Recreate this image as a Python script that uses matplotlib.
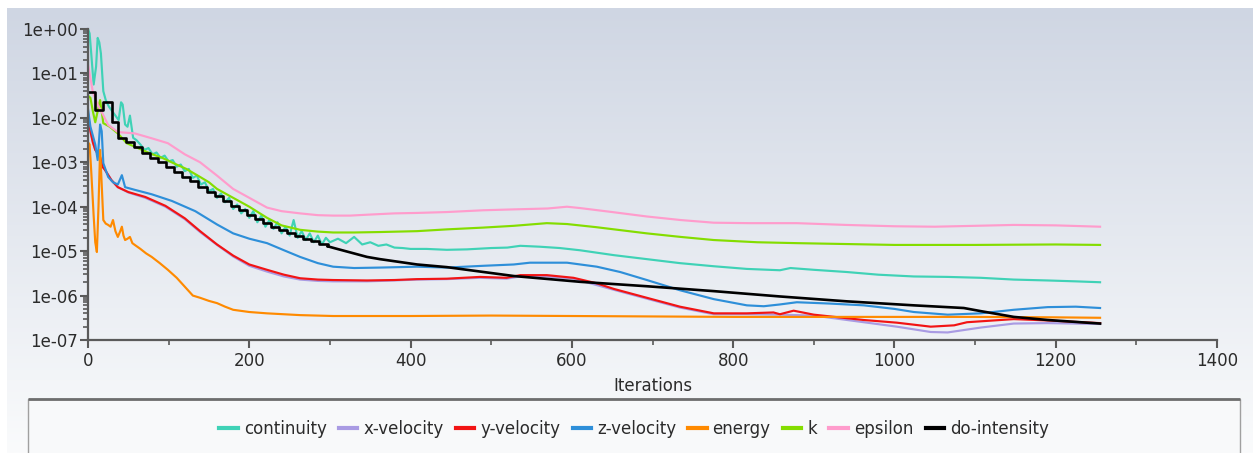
import numpy as np
import matplotlib
matplotlib.use("Agg")
import matplotlib.pyplot as plt
from matplotlib.patches import Rectangle
from matplotlib.lines import Line2D
from matplotlib.ticker import FixedLocator, FuncFormatter, LogLocator, NullFormatter

# ---------------- data (log10 of residuals) ----------------
series_names = ["continuity", "x-velocity", "y-velocity", "z-velocity",
                "energy", "k", "epsilon", "do-intensity"]
series_colors = ["#3fd2b6", "#a99be3", "#f21414", "#2e8fd9",
                 "#ff8a00", "#84dd00", "#ff9ccc", "#000000"]

cont_it = [0, 2, 4, 7, 10, 12, 14, 16, 19, 22, 26, 30, 34, 38, 41, 43, 46, 49, 52, 56,
           60, 65, 70, 75, 80, 85, 90, 95, 100, 105, 110, 115, 120, 125, 130, 135, 140,
           145, 150, 155, 160, 165, 170, 175, 180, 185, 190, 195, 200, 205, 210, 215,
           220, 225, 230, 235, 240, 245, 250, 255, 260, 265, 270, 275, 280, 285, 290,
           295, 300, 310, 320, 330, 340, 350, 360, 370, 380, 390, 400, 420, 445, 470,
           500, 520, 536, 560, 585, 610, 652, 693, 734, 776, 817, 858, 871, 900, 941,
           980, 1024, 1066, 1107, 1148, 1190, 1225, 1255]
cont_log = [0.0, -0.1, -0.55, -1.25, -0.85, -0.2, -0.3, -0.55, -1.4, -1.6, -1.75, -1.85,
            -1.95, -2.05, -1.65, -1.7, -2.15, -2.2, -1.95, -2.45,
            -2.5, -2.6, -2.72, -2.68, -2.82, -2.78, -2.9, -2.85, -2.98, -2.95, -3.1,
            -3.05, -3.2, -3.15, -3.35, -3.3, -3.5,
            -3.45, -3.65, -3.6, -3.8, -3.7, -3.9, -3.8, -4.05, -3.95, -4.15, -4.05,
            -4.25, -4.1, -4.35, -4.2,
            -4.45, -4.3, -4.5, -4.35, -4.6, -4.45, -4.65, -4.3, -4.7, -4.55, -4.75,
            -4.6, -4.8, -4.65, -4.85,
            -4.7, -4.8, -4.72, -4.82, -4.68, -4.85, -4.8, -4.88, -4.85, -4.92, -4.93,
            -4.95, -4.95, -4.97, -4.96,
            -4.93, -4.92, -4.88, -4.9, -4.93, -4.98, -5.09, -5.18, -5.27, -5.34, -5.4,
            -5.43, -5.38, -5.42, -5.47,
            -5.53, -5.57, -5.58, -5.6, -5.64, -5.66, -5.68, -5.7]

xvel_it = [0, 3, 6, 9, 12, 15, 18, 21, 29, 37, 50, 71, 96, 120, 139, 160, 180, 200, 222,
           243, 263, 285, 304, 346, 380, 408, 445, 486, 519, 536, 569, 602, 652, 693,
           734, 776, 817, 858, 900, 962, 1003, 1045, 1066, 1107, 1148, 1190, 1255]
xvel_log = [-1.95, -2.3, -2.55, -2.72, -2.8, -2.88, -3.1, -3.17, -3.4, -3.56, -3.68,
            -3.8, -4.0, -4.28, -4.57, -4.86, -5.12, -5.33, -5.46,
            -5.57, -5.64, -5.67, -5.68, -5.68, -5.66, -5.64, -5.63, -5.6, -5.62, -5.57,
            -5.57, -5.62, -5.87, -6.07,
            -6.27, -6.42, -6.42, -6.43, -6.45, -6.6, -6.7, -6.82, -6.83, -6.72, -6.63,
            -6.62, -6.64]

yvel_it = [0, 3, 6, 9, 12, 15, 18, 21, 29, 37, 50, 71, 96, 120, 139, 160, 180, 200, 222,
           243, 263, 285, 304, 346, 380, 408, 445, 486, 519, 536, 569, 602, 630, 652,
           693, 734, 776, 817, 850, 858, 875, 900, 962, 1003, 1045, 1074, 1090, 1148,
           1190, 1255]
yvel_log = [-1.9, -2.3, -2.55, -2.72, -2.8, -2.88, -3.1, -3.17, -3.4, -3.56, -3.67,
            -3.78, -3.98, -4.26, -4.55, -4.85, -5.1, -5.3, -5.42,
            -5.53, -5.61, -5.64, -5.65, -5.66, -5.65, -5.63, -5.62, -5.58, -5.6, -5.54,
            -5.54, -5.6, -5.72, -5.85,
            -6.05, -6.25, -6.4, -6.4, -6.38, -6.42, -6.34, -6.43, -6.55, -6.61, -6.7,
            -6.67, -6.6, -6.53,
            -6.56, -6.62]

zvel_it = [0, 3, 6, 9, 12, 15, 17, 19, 25, 31, 37, 42, 46, 58, 79, 104, 133, 160, 180,
           200, 222, 243, 263, 285, 304, 330, 362, 408, 445, 490, 528, 548, 594, 631,
           660, 693, 734, 776, 817, 838, 858, 879, 920, 962, 1000, 1024, 1066, 1107,
           1148, 1190, 1225, 1255]
zvel_log = [-1.8, -2.2, -2.4, -2.6, -2.95, -2.15, -2.3, -3.02, -3.33, -3.45, -3.5,
            -3.29, -3.56, -3.62, -3.72, -3.87, -4.1, -4.4, -4.6,
            -4.72, -4.82, -4.98, -5.13, -5.27, -5.35, -5.38, -5.37, -5.35, -5.37, -5.33,
            -5.3, -5.26, -5.26, -5.35,
            -5.47, -5.65, -5.88, -6.08, -6.22, -6.24, -6.2, -6.15, -6.18, -6.22, -6.3,
            -6.37, -6.43, -6.4,
            -6.32, -6.26, -6.25, -6.28]

energy_it = [0, 2, 4, 7, 9, 11, 13, 15, 17, 19, 22, 25, 28, 31, 34, 37, 40, 42, 44, 46,
             49, 52, 55, 58, 65, 72, 79, 89, 99, 110, 120, 130, 139, 150, 160, 170, 180,
             200, 222, 263, 304, 400, 500, 600, 700, 800, 900, 1000, 1100, 1200, 1255]
energy_log = [-2.55, -2.6, -3.2, -4.2, -4.8, -5.02, -4.0, -2.72, -3.5, -4.3, -4.38,
              -4.41, -4.45, -4.3, -4.55, -4.68, -4.55, -4.45, -4.65, -4.75,
              -4.72, -4.68, -4.82, -4.86, -4.95, -5.05, -5.13, -5.27, -5.42, -5.6, -5.8,
              -6.0, -6.05, -6.12, -6.17, -6.25, -6.32,
              -6.37, -6.4, -6.44, -6.46, -6.46, -6.45, -6.46, -6.47, -6.48, -6.48,
              -6.48, -6.48, -6.49, -6.5]

k_it = [0, 3, 6, 9, 12, 15, 19, 27, 37, 48, 62, 77, 92, 106, 122, 139, 150, 160, 180,
        200, 222, 240, 263, 285, 304, 330, 362, 408, 445, 490, 528, 569, 594, 630, 693,
        735, 776, 830, 879, 940, 1000, 1100, 1200, 1255]
k_log = [-1.5, -1.55, -1.85, -2.1, -1.85, -1.6, -2.12, -2.2, -2.35, -2.57, -2.68, -2.8,
         -2.9, -3.02, -3.15, -3.33, -3.45, -3.6, -3.8,
         -4.0, -4.25, -4.42, -4.52, -4.56, -4.58, -4.58, -4.57, -4.55, -4.51, -4.47,
         -4.43, -4.37, -4.39, -4.46, -4.6,
         -4.68, -4.75, -4.8, -4.82, -4.84, -4.86, -4.86, -4.85, -4.86]

eps_it = [0, 3, 6, 12, 19, 25, 37, 58, 79, 99, 120, 139, 160, 180, 205, 222, 240, 263,
          285, 304, 325, 346, 380, 408, 445, 490, 528, 570, 594, 610, 650, 693, 735,
          776, 820, 879, 940, 1000, 1050, 1100, 1148, 1200, 1255]
eps_log = [-0.8, -1.1, -1.42, -1.7, -1.94, -2.16, -2.32, -2.35, -2.46, -2.57, -2.82,
           -3.0, -3.3, -3.6, -3.85, -4.02, -4.1, -4.15,
           -4.19, -4.2, -4.2, -4.18, -4.15, -4.14, -4.12, -4.08, -4.06, -4.04, -4.0,
           -4.03, -4.12, -4.22, -4.3,
           -4.36, -4.37, -4.37, -4.41, -4.44, -4.45, -4.43, -4.41, -4.42, -4.45]

# do-intensity: stepped part (updated every ~10 iterations) followed by smooth part
doi_it = [0, 9, 19, 30, 37, 47, 57, 67, 77, 87, 97, 107, 117, 127, 137, 147, 157, 167,
          177, 187, 197, 207, 217, 227, 237, 247, 257, 267, 277, 287, 297,
          307, 346, 362, 408, 445, 528, 610, 693, 776, 858, 941, 1024, 1086, 1107, 1148,
          1190, 1255]
doi_log = [-1.42, -1.82, -1.65, -2.1, -2.45, -2.55, -2.65, -2.78, -2.9, -3.0, -3.1,
           -3.22, -3.32, -3.43, -3.55, -3.66, -3.77, -3.88,
           -3.98, -4.08, -4.18, -4.28, -4.37, -4.45, -4.53, -4.6, -4.66, -4.72, -4.78,
           -4.84, -4.89,
           -4.94, -5.13, -5.18, -5.3, -5.36, -5.56, -5.69, -5.79, -5.9, -6.02, -6.13,
           -6.22, -6.28, -6.35, -6.48,
           -6.55, -6.63]
doi_step_count = 31  # number of leading points drawn as steps

x_ticks = [0, 200, 400, 600, 800, 1000, 1200, 1400]
y_ticks = [1e-7, 1e-6, 1e-5, 1e-4, 1e-3, 1e-2, 1e-1, 1e0]
x_label = "Iterations"

# ---------------- figure ----------------
W, H = 1253, 453
fig = plt.figure(figsize=(W / 100, H / 100), dpi=100)
plt.rcParams['font.family'] = ['DejaVu Sans']

# gradient background panel
bg = fig.add_axes([0, 0, 1, 1], zorder=-10)
bg.set_xlim(0, 1)
bg.set_ylim(0, 1)
bg.axis('off')
top = np.array([207, 214, 227]) / 255.0
bot = np.array([250, 251, 252]) / 255.0
t = np.linspace(0, 1, 256)[:, None]
grad = (top[None, :] * (1 - t) + bot[None, :] * t)[:, None, :]
grad = np.repeat(grad, 2, axis=1)
bg.imshow(grad, extent=[7 / W, 1, 0, 1 - 8 / H], aspect='auto', interpolation='bilinear')

# legend box
bg.add_patch(Rectangle((28 / W, -0.02), (1240 - 28) / W, (453 - 399) / H + 0.02,
                       facecolor='#f8f9fa', edgecolor='#a0a0a0', lw=1.0, zorder=2))
bg.plot([28 / W, 1240 / W], [1 - 399 / H, 1 - 399 / H], color='#6e6e6e', lw=2.0,
        zorder=3, solid_capstyle='butt')

# main axes
ax = fig.add_axes([88 / W, 1 - 340 / H, (1217 - 88) / W, (340 - 29) / H])
ax.patch.set_alpha(0)

data = [
    (cont_it, cont_log),
    (xvel_it, xvel_log),
    (yvel_it, yvel_log),
    (zvel_it, zvel_log),
    (energy_it, energy_log),
    (k_it, k_log),
    (eps_it, eps_log),
]
for (xs, ls), name, col in zip(data, series_names[:7], series_colors[:7]):
    ax.plot(xs, 10.0 ** np.array(ls), color=col, lw=1.55, label=name,
            solid_joinstyle='round')

doi_x = np.array(doi_it)
doi_y = 10.0 ** np.array(doi_log)
n = doi_step_count
ax.plot(doi_x[:n], doi_y[:n], color=series_colors[7], lw=1.9, drawstyle='steps-post')
ax.plot(doi_x[n - 1:], doi_y[n - 1:], color=series_colors[7], lw=1.9)

ax.set_yscale('log')
ax.set_xlim(0, 1400)
ax.set_ylim(1e-7, 1e0)

for s in ['top', 'right']:
    ax.spines[s].set_visible(False)
for s in ['left', 'bottom']:
    ax.spines[s].set_color('#5a5a5a')
    ax.spines[s].set_linewidth(1.6)

ax.xaxis.set_major_locator(FixedLocator(x_ticks))
ax.xaxis.set_minor_locator(FixedLocator([100, 300, 500, 700, 900, 1100, 1300]))
ax.yaxis.set_major_locator(FixedLocator(y_ticks))
ax.yaxis.set_minor_locator(LogLocator(base=10, subs=np.arange(2, 10)))
ax.yaxis.set_minor_formatter(NullFormatter())
ax.yaxis.set_major_formatter(FuncFormatter(lambda v, p: f"{v:.0e}"))

ax.tick_params(axis='both', which='major', colors='#5a5a5a', labelcolor='#2b2b2b',
               labelsize=12, length=6, width=1.5)
ax.tick_params(axis='both', which='minor', colors='#5a5a5a', length=3.5, width=1.2)
ax.tick_params(axis='x', pad=3)
ax.tick_params(axis='y', pad=1)

ax.set_xlabel(x_label, fontsize=12, color='#2b2b2b', labelpad=5)

handles = [Line2D([], [], color=c, lw=3) for c in series_colors]
fig.legend(handles, series_names, loc='center', bbox_to_anchor=(634 / W, 1 - 429 / H),
           ncol=8, frameon=False, fontsize=12, handlelength=1.1, handletextpad=0.35,
           columnspacing=0.75, labelcolor='#2b2b2b')

fig.savefig("out.png", dpi=100)
